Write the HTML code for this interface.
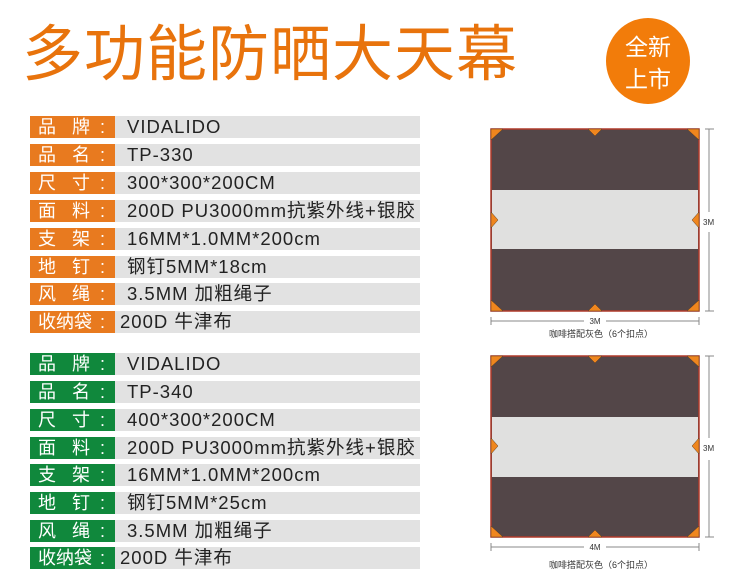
<!DOCTYPE html>
<html><head><meta charset="utf-8"><style>
body{margin:0;width:750px;height:579px;background:#fff;position:relative;overflow:hidden;font-family:"Liberation Sans","Noto Sans CJK SC",sans-serif}
.t{position:absolute;left:22px;top:4px;font-size:61px;font-weight:normal;color:#e8730c;letter-spacing:1px;white-space:nowrap;font-family:"Noto Sans CJK SC",sans-serif}
.c{position:absolute;left:606px;top:18px;width:84px;height:86px;border-radius:50%;background:#f27c0a;color:#fff;font-size:23px;line-height:32px;text-align:center;padding-top:11px;box-sizing:border-box;font-family:"Noto Sans CJK SC",sans-serif}
.r{position:absolute;left:30px;width:390px;height:22px;background:#e2e2e2;font-size:18.5px;line-height:22px;color:#222;white-space:nowrap}
.l{position:absolute;left:0;top:0;width:85px;height:22px;color:#fff;font-size:18px}
.l span{position:absolute;top:0}
.v{position:absolute;left:97px;top:0;letter-spacing:1px}
.o .l{background:#e87a1f}.g .l{background:#10883c}
</style></head><body>
<div class="t">多功能防晒大天幕</div>
<div class="c">全新<br>上市</div>

<div class="r o" style="top:116px"><div class="l"><span style="left:8px">品</span><span style="left:42px">牌</span><span style="left:70px">:</span></div><div class="v">VIDALIDO</div></div>
<div class="r o" style="top:144px"><div class="l"><span style="left:8px">品</span><span style="left:42px">名</span><span style="left:70px">:</span></div><div class="v">TP-330</div></div>
<div class="r o" style="top:172px"><div class="l"><span style="left:8px">尺</span><span style="left:42px">寸</span><span style="left:70px">:</span></div><div class="v">300*300*200CM</div></div>
<div class="r o" style="top:200px"><div class="l"><span style="left:8px">面</span><span style="left:42px">料</span><span style="left:70px">:</span></div><div class="v">200D PU3000mm抗紫外线+银胶</div></div>
<div class="r o" style="top:228px"><div class="l"><span style="left:8px">支</span><span style="left:42px">架</span><span style="left:70px">:</span></div><div class="v">16MM*1.0MM*200cm</div></div>
<div class="r o" style="top:256px"><div class="l"><span style="left:8px">地</span><span style="left:42px">钉</span><span style="left:70px">:</span></div><div class="v">钢钉5MM*18cm</div></div>
<div class="r o" style="top:283px"><div class="l"><span style="left:8px">风</span><span style="left:42px">绳</span><span style="left:70px">:</span></div><div class="v">3.5MM 加粗绳子</div></div>
<div class="r o" style="top:311px"><div class="l"><span style="left:8px">收纳袋</span><span style="left:70px">:</span></div><div class="v" style="left:90px">200D 牛津布</div></div>

<div class="r g" style="top:353px"><div class="l"><span style="left:8px">品</span><span style="left:42px">牌</span><span style="left:70px">:</span></div><div class="v">VIDALIDO</div></div>
<div class="r g" style="top:381px"><div class="l"><span style="left:8px">品</span><span style="left:42px">名</span><span style="left:70px">:</span></div><div class="v">TP-340</div></div>
<div class="r g" style="top:409px"><div class="l"><span style="left:8px">尺</span><span style="left:42px">寸</span><span style="left:70px">:</span></div><div class="v">400*300*200CM</div></div>
<div class="r g" style="top:437px"><div class="l"><span style="left:8px">面</span><span style="left:42px">料</span><span style="left:70px">:</span></div><div class="v">200D PU3000mm抗紫外线+银胶</div></div>
<div class="r g" style="top:464px"><div class="l"><span style="left:8px">支</span><span style="left:42px">架</span><span style="left:70px">:</span></div><div class="v">16MM*1.0MM*200cm</div></div>
<div class="r g" style="top:492px"><div class="l"><span style="left:8px">地</span><span style="left:42px">钉</span><span style="left:70px">:</span></div><div class="v">钢钉5MM*25cm</div></div>
<div class="r g" style="top:520px"><div class="l"><span style="left:8px">风</span><span style="left:42px">绳</span><span style="left:70px">:</span></div><div class="v">3.5MM 加粗绳子</div></div>
<div class="r g" style="top:547px"><div class="l"><span style="left:8px">收纳袋</span><span style="left:70px">:</span></div><div class="v" style="left:90px">200D 牛津布</div></div>

<svg style="position:absolute;left:0;top:0" width="750" height="579" font-family="Liberation Sans,Noto Sans CJK SC,sans-serif">
<g>
<rect x="491" y="129" width="208" height="182" fill="#534648" stroke="#b03a2a" stroke-width="1.5"/>
<rect x="492" y="190" width="206" height="59" fill="#e0e0df"/>
<g fill="#ef861e" stroke="#5a3a20" stroke-width="0.5">
<polygon points="491,129 503,129 491,140"/><polygon points="699,129 687,129 699,140"/>
<polygon points="491,311 503,311 491,300"/><polygon points="699,311 687,311 699,300"/>
<polygon points="588,129 602,129 595,136"/><polygon points="588,311 602,311 595,304"/>
<polygon points="491,212 498,220 491,228"/><polygon points="699,212 692,220 699,228"/>
</g>
<g stroke="#888" stroke-width="1"><line x1="709" y1="129" x2="709" y2="212"/><line x1="709" y1="232" x2="709" y2="311"/><line x1="705" y1="129" x2="714" y2="129"/><line x1="705" y1="311" x2="714" y2="311"/>
<line x1="491" y1="321" x2="584" y2="321"/><line x1="606" y1="321" x2="699" y2="321"/><line x1="491" y1="317" x2="491" y2="325"/><line x1="699" y1="317" x2="699" y2="325"/></g>
<text x="703" y="225" font-size="8" fill="#333">3M</text>
<text x="595" y="324" font-size="8" fill="#333" text-anchor="middle">3M</text>
<text x="601" y="337" font-size="9" fill="#333" text-anchor="middle">咖啡搭配灰色（6个扣点）</text>
</g>
<g>
<rect x="491" y="356" width="208" height="181" fill="#534648" stroke="#b03a2a" stroke-width="1.5"/>
<rect x="492" y="417" width="206" height="60" fill="#e0e0df"/>
<g fill="#ef861e" stroke="#5a3a20" stroke-width="0.5">
<polygon points="491,356 503,356 491,367"/><polygon points="699,356 687,356 699,367"/>
<polygon points="491,537 503,537 491,526"/><polygon points="699,537 687,537 699,526"/>
<polygon points="588,356 602,356 595,363"/><polygon points="588,537 602,537 595,530"/>
<polygon points="491,438 498,446 491,454"/><polygon points="699,438 692,446 699,454"/>
</g>
<g stroke="#888" stroke-width="1"><line x1="709" y1="356" x2="709" y2="438"/><line x1="709" y1="460" x2="709" y2="537"/><line x1="705" y1="356" x2="714" y2="356"/><line x1="705" y1="537" x2="714" y2="537"/>
<line x1="491" y1="547" x2="584" y2="547"/><line x1="606" y1="547" x2="699" y2="547"/><line x1="491" y1="543" x2="491" y2="551"/><line x1="699" y1="543" x2="699" y2="551"/></g>
<text x="703" y="451" font-size="8" fill="#333">3M</text>
<text x="595" y="550" font-size="8" fill="#333" text-anchor="middle">4M</text>
<text x="601" y="568" font-size="9" fill="#333" text-anchor="middle">咖啡搭配灰色（6个扣点）</text>
</g>
</svg>
</body></html>
